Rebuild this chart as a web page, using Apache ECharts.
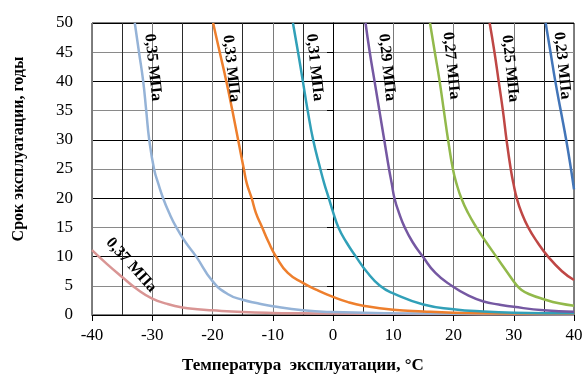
<!DOCTYPE html>
<html>
<head>
<meta charset="utf-8">
<script src="https://cdn.jsdelivr.net/npm/echarts@6/dist/echarts.min.js"></script>
<style>
html,body{margin:0;padding:0;background:#fff;}
#c{width:587px;height:376px;}
</style>
</head>
<body>
<div id="c"></div>
<script>
// ---- Data ----
const xTicks = [-40, -30, -20, -10, 0, 10, 20, 30, 40];
const yTicks = [0, 5, 10, 15, 20, 25, 30, 35, 40, 45, 50];

const p037_x = [-40, -37.5, -35, -32.5, -30, -27.5, -25, -22.5, -20, -15, -10, -5, 0, 10, 20, 30, 40];
const p037_y = [11.1, 8.7, 6.5, 4.4, 2.8, 1.9, 1.3, 1.0, 0.8, 0.5, 0.35, 0.3, 0.25, 0.2, 0.15, 0.12, 0.1];

const p035_x = [-32.9, -32.2, -31.5, -31, -30.5, -29.7, -29.0, -28.2, -27.2, -26, -24.5, -22.7, -20, -17.5, -15, -12.5, -10, -5, 0, 10, 20, 30, 40];
const p035_y = [50, 45, 40, 35, 30, 25, 22.5, 20, 17.5, 15, 12.5, 10, 5.8, 3.6, 2.6, 2.0, 1.5, 0.8, 0.5, 0.3, 0.2, 0.15, 0.12];

const p033_x = [-19.9, -18.8, -17.7, -16.7, -15.75, -14.8, -14.3, -13.5, -12.8, -11.75, -10.7, -9.45, -7.5, -5, -2.5, 0, 2.5, 5, 10, 15, 20, 30, 40];
const p033_y = [50, 45, 40, 35, 30, 25, 22.5, 20, 17.5, 15, 12.5, 10, 7.2, 5.5, 4.2, 3.1, 2.2, 1.6, 0.9, 0.6, 0.4, 0.25, 0.2];

const p031_x = [-6.65, -5.8, -5, -4.2, -3.3, -2.1, -1.45, -0.7, 0.05, 0.9, 2.2, 3.8, 5.6, 7.8, 10, 15, 20, 25, 30, 40];
const p031_y = [50, 45, 40, 35, 30, 25, 22.5, 20, 17.5, 15, 12.5, 10, 7.4, 5, 3.7, 1.8, 1.0, 0.6, 0.4, 0.3];

const p029_x = [5.4, 6.1, 6.9, 7.7, 8.5, 9.3, 9.75, 10.2, 10.95, 11.9, 13.2, 14.9, 17, 19.7, 22.5, 25, 27.5, 30, 35, 40];
const p029_y = [50, 45, 40, 35, 30, 25, 22.5, 20, 17.5, 15, 12.5, 10, 7.2, 5, 3.3, 2.3, 1.8, 1.4, 0.8, 0.55];

const p027_x = [16.1, 16.9, 17.7, 18.4, 19.1, 19.9, 20.5, 21.3, 22.4, 23.8, 25.4, 27.1, 28.8, 30.4, 31.3, 32.5, 35, 37.5, 40];
const p027_y = [50, 45, 40, 35, 30, 25, 22.5, 20, 17.5, 15, 12.5, 10, 7.5, 5.2, 4.3, 3.6, 2.7, 2.0, 1.6];

const p025_x = [26, 26.8, 27.5, 28.2, 28.8, 29.5, 29.95, 30.5, 31.3, 32.4, 33.9, 35.7, 38, 40];
const p025_y = [50, 45, 40, 35, 30, 25, 22.5, 20, 17.5, 15, 12.5, 10, 7.5, 6];

const p023_x = [35.3, 36.1, 36.9, 37.8, 38.7, 39.5, 40];
const p023_y = [50, 45, 40, 35, 30, 25, 21.5];

const seriesNames = ['0,37 МПа', '0,35 МПа', '0,33 МПа', '0,31 МПа', '0,29 МПа', '0,27 МПа', '0,25 МПа', '0,23 МПа'];
const seriesX = [p037_x, p035_x, p033_x, p031_x, p029_x, p027_x, p025_x, p023_x];
const seriesY = [p037_y, p035_y, p033_y, p031_y, p029_y, p027_y, p025_y, p023_y];
const seriesColors = ['#D99594', '#95B3D7', '#EE7F2D', '#31A0B8', '#7558A2', '#92B94B', '#BF4745', '#4275B8'];

// label anchors in data coordinates, and rotation in degrees
const labelX = [-33.5, -29.9, -16.9, -3.05, 8.95, 19.6, 29.4, 38.05];
const labelY = [8.55, 42.4, 42.2, 42.4, 42.4, 42.7, 42.2, 42.7];
const labelRot = [-48, -84, -84, -84, -84, -84, -84, -84];

const xTitle = 'Температура  эксплуатации, °С';
const yTitle = 'Срок эксплуатации, годы';

// ---- Chart ----
const FONT = '"Liberation Serif", "Times New Roman", serif';
const chart = echarts.init(document.getElementById('c'), null, {renderer: 'canvas'});

const series = seriesNames.map((n, i) => ({
  name: n,
  type: 'line',
  smooth: 0.5,
  showSymbol: false,
  symbol: 'none',
  clip: true,
  lineStyle: {color: seriesColors[i], width: 2.5},
  itemStyle: {color: seriesColors[i]},
  data: seriesX[i].map((x, k) => [x, seriesY[i][k]]),
  z: 3
}));

chart.setOption({
  animation: false,
  backgroundColor: '#fff',
  grid: {left: 92, right: 13, top: 23, bottom: 61, show: true, borderColor: '#000', borderWidth: 1, containLabel: false},
  xAxis: {
    type: 'value', min: xTicks[0], max: xTicks[xTicks.length - 1], interval: 10,
    axisLine: {show: true, onZero: false, lineStyle: {color: '#000', width: 1}},
    axisTick: {show: true, inside: false, length: 6, lineStyle: {color: '#000'}},
    axisLabel: {color: '#000', fontFamily: FONT, fontSize: 17, margin: 12,
      formatter: v => (xTicks.indexOf(v) >= 0 ? String(v) : '')},
    splitLine: {show: true, lineStyle: {color: '#7a7a7a', width: 1}},
    minorTick: {show: false, splitNumber: 2},
    minorSplitLine: {show: true, lineStyle: {color: '#2a2a2a', width: 1}}
  },
  yAxis: {
    type: 'value', min: yTicks[0], max: yTicks[yTicks.length - 1], interval: 5,
    axisLine: {show: true, lineStyle: {color: '#000', width: 1}},
    axisTick: {show: true, inside: false, length: 6, lineStyle: {color: '#000'}},
    axisLabel: {color: '#000', fontFamily: FONT, fontSize: 17, margin: 19,
      formatter: v => (yTicks.indexOf(v) >= 0 ? String(v) : '')},
    splitLine: {show: true, lineStyle: {color: ['#000', '#8a8a8a'], width: 1}}
  },
  series: series
});

function addGraphics() {
  const g = [];
  seriesNames.forEach((n, i) => {
    const p = chart.convertToPixel({gridIndex: 0}, [labelX[i], labelY[i]]);
    g.push({
      type: 'text', x: p[0], y: p[1], rotation: labelRot[i] * Math.PI / 180, z: 10,
      style: {text: n, font: 'bold 16px ' + FONT, fill: '#000', align: 'center', verticalAlign: 'middle'}
    });
  });
  g.push({
    type: 'text', x: 182, y: 366, z: 10,
    style: {text: xTitle, font: 'bold 17px ' + FONT, fill: '#000', align: 'left', verticalAlign: 'middle'}
  });
  g.push({
    type: 'text', x: 19, y: 149, rotation: Math.PI / 2, z: 10,
    style: {text: yTitle, font: 'bold 16px ' + FONT, fill: '#000', align: 'center', verticalAlign: 'middle'}
  });
  chart.setOption({graphic: g});
}
addGraphics();
</script>
</body>
</html>
